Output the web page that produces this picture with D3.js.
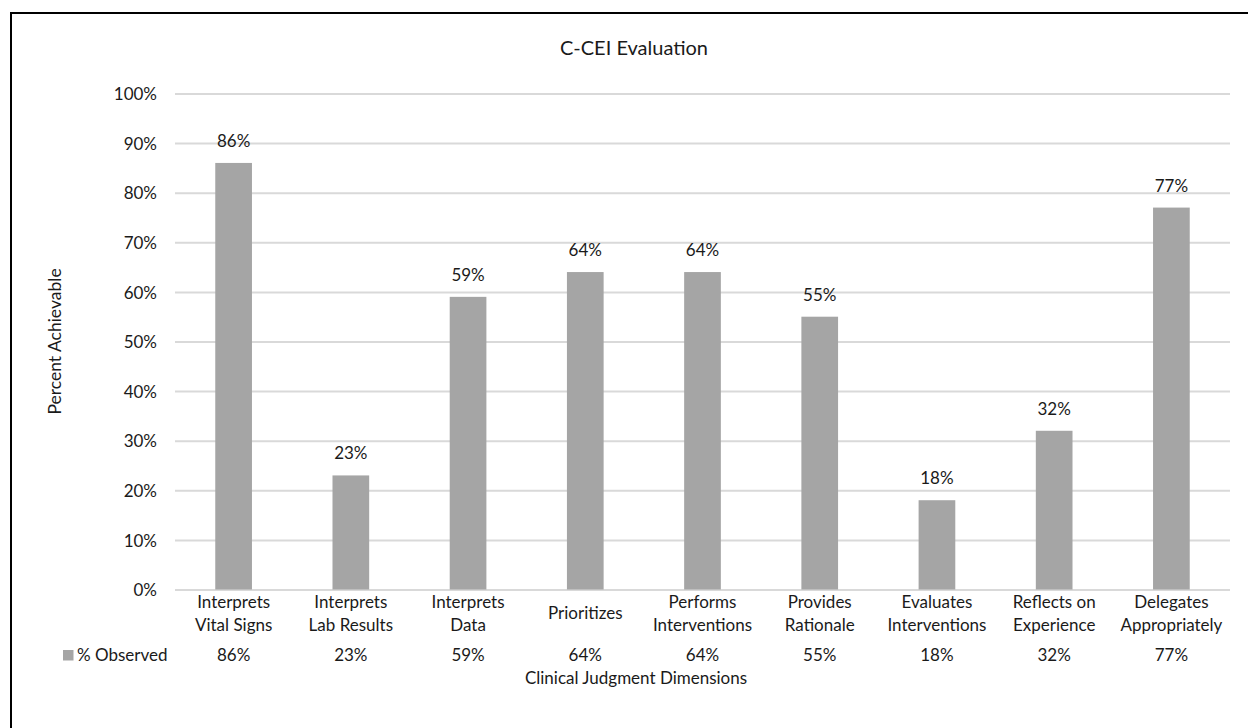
<!DOCTYPE html>
<html>
<head>
<meta charset="utf-8">
<script src="https://cdn.jsdelivr.net/npm/d3@7"></script>
<style>
  html, body { margin: 0; padding: 0; background: #fff; }
  svg text { font-family: Lato, "Liberation Sans", sans-serif; fill: #1a1a1a; }
</style>
</head>
<body>
<svg id="chart" width="1248" height="728"></svg>
<script>
// Clinical judgment dimensions (line breaks as shown under each bar)
const categories = [
  ["Interprets", "Vital Signs"],
  ["Interprets", "Lab Results"],
  ["Interprets", "Data"],
  ["Prioritizes"],
  ["Performs", "Interventions"],
  ["Provides", "Rationale"],
  ["Evaluates", "Interventions"],
  ["Reflects on", "Experience"],
  ["Delegates", "Appropriately"]
];
// % Observed per dimension
const observed = [86, 23, 59, 64, 64, 55, 18, 32, 77];
const yTicks = [0, 10, 20, 30, 40, 50, 60, 70, 80, 90, 100];
const seriesName = "% Observed";
const chartTitle = "C-CEI Evaluation";
const xTitle = "Clinical Judgment Dimensions";
const yTitle = "Percent Achievable";

const svg = d3.select("#chart");
const plot = { left: 175, right: 1230, top: 93.5, bottom: 589.5 };
const barColor = "#a5a5a5";
const gridColor = "#d9d9d9";
const fs = "17px";

// outer frame
svg.append("rect")
  .attr("x", 11).attr("y", 13)
  .attr("width", 1400).attr("height", 900)
  .attr("fill", "none").attr("stroke", "#000").attr("stroke-width", 2);

const keys = categories.map((d, i) => i);
const x = d3.scaleBand().domain(keys).range([plot.left, plot.right])
  .paddingInner(0.687).paddingOuter(0.3435);
const y = d3.scaleLinear().domain([0, 100]).range([plot.bottom, plot.top]);

// title
svg.append("text").attr("x", 634).attr("y", 55)
  .attr("text-anchor", "middle").style("font-size", "20px").text(chartTitle);

// y axis with gridlines
const yAxis = d3.axisLeft(y).tickValues(yTicks)
  .tickFormat(d => d + "%")
  .tickSize(-(plot.right - plot.left)).tickPadding(18);
const gy = svg.append("g").attr("transform", `translate(${plot.left},0)`).call(yAxis);
gy.select(".domain").remove();
gy.selectAll(".tick line").attr("stroke", gridColor).attr("stroke-width", 2);
gy.selectAll(".tick text").style("font-size", fs).attr("fill", "#1a1a1a").attr("dy", "0.36em");

// bars
svg.append("g").selectAll("rect").data(observed).join("rect")
  .attr("x", (d, i) => x(i))
  .attr("width", x.bandwidth())
  .attr("y", d => y(d))
  .attr("height", d => y(0) - y(d))
  .attr("fill", barColor);

// value labels above bars
svg.append("g").selectAll("text").data(observed).join("text")
  .attr("x", (d, i) => x(i) + x.bandwidth() / 2)
  .attr("y", d => y(d) - 16)
  .attr("text-anchor", "middle").style("font-size", fs)
  .text(d => d + "%");

// category labels
const catG = svg.append("g").selectAll("text").data(categories).join("text")
  .attr("text-anchor", "middle").style("font-size", fs)
  .attr("transform", (d, i) => `translate(${x(i) + x.bandwidth() / 2},0)`);
catG.each(function(lines) {
  const t = d3.select(this);
  const y0 = lines.length === 1 ? 619 : 607.5;
  lines.forEach((ln, j) => {
    t.append("tspan").attr("x", 0).attr("y", y0 + j * 23).text(ln);
  });
});

// data table row
svg.append("rect").attr("x", 63).attr("y", 650).attr("width", 10.5).attr("height", 10.5).attr("fill", barColor);
svg.append("text").attr("x", 77).attr("y", 661).style("font-size", fs).text(seriesName);
svg.append("g").selectAll("text").data(observed).join("text")
  .attr("x", (d, i) => x(i) + x.bandwidth() / 2)
  .attr("y", 661)
  .attr("text-anchor", "middle").style("font-size", fs)
  .text(d => d + "%");

// axis titles
svg.append("text").attr("x", 636).attr("y", 684)
  .attr("text-anchor", "middle").style("font-size", fs).text(xTitle);
svg.append("text")
  .attr("transform", `translate(61,${(plot.top + plot.bottom) / 2}) rotate(-90)`)
  .attr("text-anchor", "middle").style("font-size", "17.5px").text(yTitle);
</script>
</body>
</html>
